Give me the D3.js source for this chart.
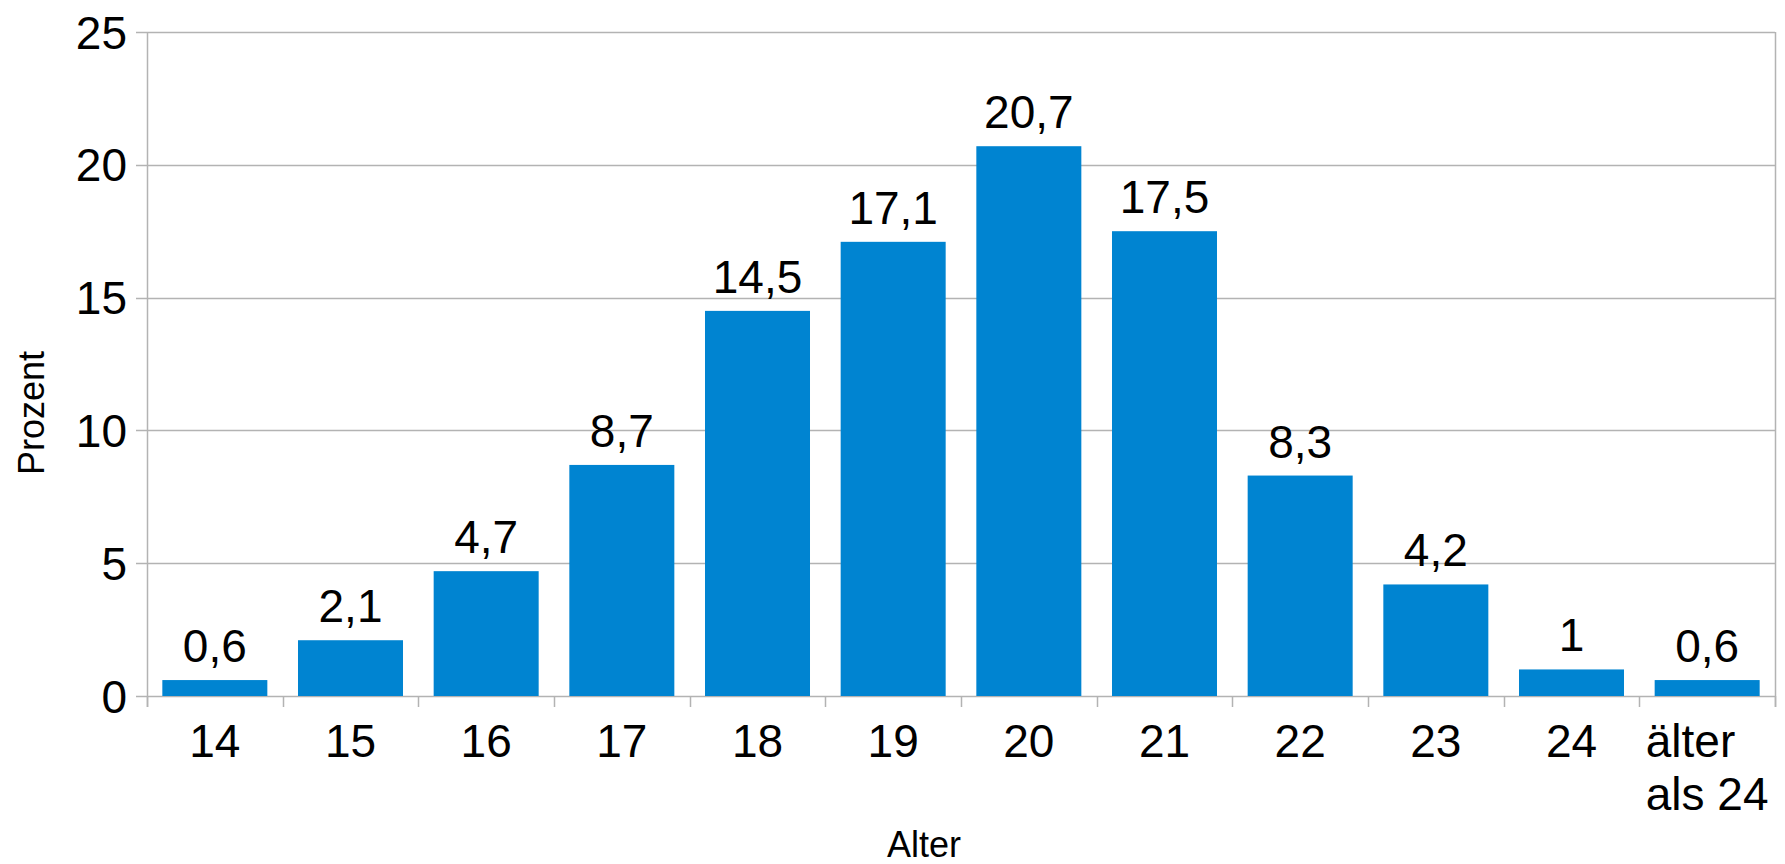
<!DOCTYPE html>
<html>
<head>
<meta charset="utf-8">
<script src="https://cdn.jsdelivr.net/npm/d3@7"></script>
<style>
  html, body { margin: 0; padding: 0; background: #fff; }
  svg { display: block; font-family: "Liberation Sans", Arial, sans-serif; }
</style>
</head>
<body>
<svg id="chart" width="1785" height="864"></svg>
<script>
// Age distribution (percent)
const categories = ["14", "15", "16", "17", "18", "19", "20", "21", "22", "23", "24", "älter\nals 24"];
const values = [0.6, 2.1, 4.7, 8.7, 14.5, 17.1, 20.7, 17.5, 8.3, 4.2, 1, 0.6];
const yTicks = [0, 5, 10, 15, 20, 25];
const xTitle = "Alter";
const yTitle = "Prozent";

const fmt = v => String(v).replace(".", ",");

const svg = d3.select("#chart");
const plotLeft = 147, plotRight = 1775, plotTop = 32, plotBottom = 696;
const gridColor = "#b3b3b3";
const barColor = "#0084d1";
const fontSize = 46;

const x = d3.scaleBand().domain(categories).range([plotLeft, plotRight]).paddingInner(0.226).paddingOuter(0.113);
const xCell = d3.scaleBand().domain(categories).range([plotLeft, plotRight]);
const y = d3.scaleLinear().domain([0, 25]).range([plotBottom, plotTop]);

// horizontal gridlines
svg.append("g").selectAll("line").data(yTicks).join("line")
  .attr("x1", plotLeft - 11).attr("x2", plotRight)
  .attr("y1", d => Math.round(y(d)) + 0.5).attr("y2", d => Math.round(y(d)) + 0.5)
  .attr("stroke", gridColor).attr("stroke-width", 1.5);

// left axis line and right frame line
svg.append("line").attr("x1", plotLeft + 0.5).attr("x2", plotLeft + 0.5).attr("y1", plotTop).attr("y2", plotBottom + 11)
  .attr("stroke", gridColor).attr("stroke-width", 1.5);
svg.append("line").attr("x1", plotRight + 0.5).attr("x2", plotRight + 0.5).attr("y1", plotTop).attr("y2", plotBottom + 11)
  .attr("stroke", gridColor).attr("stroke-width", 1.5);

// category separators on the x axis
const seps = categories.map(c => xCell(c)).concat([plotRight]);
svg.append("g").selectAll("line").data(seps).join("line")
  .attr("x1", d => Math.round(d) + 0.5).attr("x2", d => Math.round(d) + 0.5)
  .attr("y1", plotBottom).attr("y2", plotBottom + 11)
  .attr("stroke", gridColor).attr("stroke-width", 1.5);

// bars
svg.append("g").selectAll("rect").data(values).join("rect")
  .attr("x", (d, i) => x(categories[i]))
  .attr("width", x.bandwidth())
  .attr("y", d => y(d))
  .attr("height", d => y(0) - y(d))
  .attr("fill", barColor);

// value labels
svg.append("g").selectAll("text").data(values).join("text")
  .attr("x", (d, i) => x(categories[i]) + x.bandwidth() / 2)
  .attr("y", d => y(d) - 18)
  .attr("text-anchor", "middle")
  .attr("font-size", fontSize)
  .attr("fill", "#000")
  .text(d => fmt(d));

// y tick labels
svg.append("g").selectAll("text").data(yTicks).join("text")
  .attr("x", plotLeft - 20)
  .attr("y", d => y(d))
  .attr("dy", "0.36em")
  .attr("text-anchor", "end")
  .attr("font-size", fontSize)
  .text(d => d);

// x tick labels (multi-line labels are left-aligned inside a centred block)
const xl = svg.append("g");
categories.forEach(c => {
  const lines = c.split("\n");
  const cx = x(c) + x.bandwidth() / 2;
  const t = xl.append("text").attr("font-size", fontSize).attr("y", 757);
  lines.forEach((ln, i) => {
    t.append("tspan").attr("dy", i === 0 ? 0 : 53).text(ln);
  });
  if (lines.length === 1) {
    t.attr("text-anchor", "middle").selectAll("tspan").attr("x", cx);
  } else {
    const w = d3.max(t.selectAll("tspan").nodes(), n => n.getComputedTextLength());
    t.attr("text-anchor", "start").selectAll("tspan").attr("x", cx - w / 2);
  }
});

// axis titles
svg.append("text").attr("x", 924).attr("y", 857).attr("text-anchor", "middle")
  .attr("font-size", 36).text(xTitle);
svg.append("text").attr("transform", "translate(44,413) rotate(-90)").attr("text-anchor", "middle")
  .attr("font-size", 36).text(yTitle);
</script>
</body>
</html>
